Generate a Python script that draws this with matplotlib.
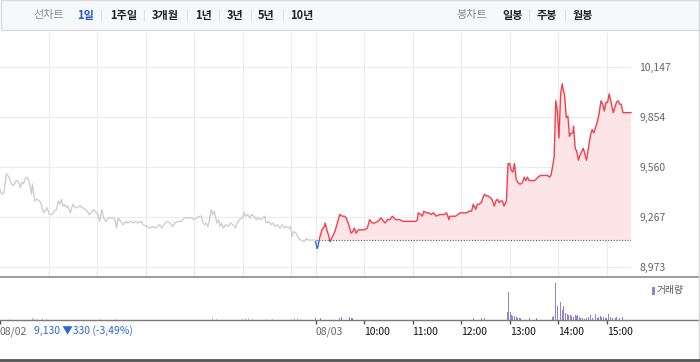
import matplotlib
matplotlib.use('Agg')
import matplotlib.pyplot as plt
from matplotlib.patches import Rectangle
from matplotlib.lines import Line2D
import numpy as np

plt.rcParams['font.family'] = ['Noto Sans CJK KR', 'DejaVu Sans']

# ---------------- data ----------------
prev_times = ['09:00','09:02','09:05','09:08','09:11','09:14','09:17','09:20','09:23','09:25',
              '09:27','09:29','09:31','09:33','09:35','09:37','09:39','09:40','09:43','09:45',
              '09:49','09:51','09:54','09:58','10:01','10:04','10:07','10:10','10:12','10:14',
              '10:16','10:18','10:20','10:22','10:24','10:27','10:30','10:33','10:35','10:39',
              '10:42','10:45','10:48','10:50','10:53','10:56','10:59','11:01','11:03','11:06',
              '11:08','11:11','11:14','11:17','11:20','11:22','11:24','11:26','11:29','11:32',
              '11:36','11:38','11:41','11:45','11:48','11:51','11:54','11:57','12:01','12:05',
              '12:09','12:13','12:17','12:20','12:24','12:27','12:30','12:33','12:36','12:40',
              '12:44','12:48','12:52','12:57','13:00','13:03','13:07','13:09','13:11','13:13',
              '13:15','13:17','13:19','13:21','13:23','13:25','13:28','13:30','13:32','13:34',
              '13:36','13:39','13:42','13:45','13:48','13:51','13:53','13:56','13:59','14:02',
              '14:03','14:06','14:09','14:11','14:14','14:17','14:19','14:22','14:25','14:27',
              '14:29','14:32','14:35','14:37','14:40','14:43','14:46','14:49','14:52','14:54',
              '14:57','14:59','15:01','15:03','15:06','15:09','15:12','15:16','15:19','15:20',
              '15:30']
prev_prices = [9430,9400,9410,9520,9500,9460,9450,9480,9470,9440,
               9470,9460,9490,9500,9490,9450,9400,9460,9360,9370,
               9360,9340,9290,9320,9280,9280,9300,9310,9360,9340,
               9370,9330,9340,9320,9330,9290,9340,9320,9320,9330,
               9320,9310,9300,9280,9290,9310,9290,9280,9240,9310,
               9260,9240,9260,9260,9260,9250,9200,9260,9240,9220,
               9240,9230,9240,9230,9240,9230,9240,9220,9210,9200,
               9210,9200,9220,9200,9230,9240,9230,9210,9230,9240,
               9240,9260,9260,9260,9250,9260,9270,9270,9230,9220,
               9230,9210,9250,9310,9280,9300,9230,9250,9210,9230,
               9200,9220,9210,9230,9220,9200,9230,9250,9260,9290,
               9270,9280,9260,9280,9270,9250,9260,9250,9260,9270,
               9230,9240,9220,9230,9210,9220,9200,9220,9200,9210,
               9200,9210,9150,9180,9170,9140,9130,9120,9140,9130,
               9130]

cur_times = ['09:00','09:02','09:03','09:05','09:08','09:11','09:12','09:14','09:16','09:18',
             '09:20','09:22','09:24','09:27','09:30','09:33','09:36','09:38','09:41','09:44',
             '09:46','09:48','09:50','09:53','09:56','10:00','10:04','10:07','10:10','10:13',
             '10:17','10:19','10:21','10:24','10:26','10:29','10:32','10:35','10:39','10:41',
             '10:44','10:48','10:52','10:56','11:00','11:04','11:06','11:07','11:10','11:12',
             '11:14','11:17','11:20','11:23','11:26','11:29','11:33','11:36','11:39','11:42',
             '11:45','11:46','11:49','11:53','11:56','11:59','12:01','12:04','12:07','12:10',
             '12:13','12:15','12:18','12:20','12:22','12:25','12:27','12:29','12:31','12:33',
             '12:36','12:38','12:41','12:43','12:45','12:47','12:49','12:51','12:53','12:56',
             '12:58','13:00','13:02','13:04','13:06','13:08','13:10','13:12','13:14','13:16',
             '13:18','13:20','13:22','13:24','13:26','13:29','13:31','13:33','13:35','13:38',
             '13:41','13:43','13:45','13:47','13:49','13:51','13:53','13:55','13:57','13:59',
             '14:01','14:03','14:05','14:06','14:08','14:10','14:12','14:14','14:16','14:18',
             '14:19','14:21','14:23','14:25','14:27','14:30','14:31','14:35','14:38','14:40',
             '14:42','14:44','14:46','14:48','14:50','14:53','14:55','14:57','14:59','15:01',
             '15:03','15:05','15:08','15:10','15:12','15:14','15:16','15:18','15:20','15:30']
cur_prices = [9120,9080,9090,9140,9190,9210,9230,9190,9160,9120,
              9140,9160,9180,9230,9280,9270,9270,9260,9220,9170,
              9180,9200,9170,9190,9190,9190,9200,9250,9230,9230,
              9240,9250,9260,9240,9230,9250,9250,9270,9250,9250,
              9250,9240,9240,9240,9240,9240,9250,9290,9280,9270,
              9300,9290,9290,9280,9290,9270,9280,9280,9280,9290,
              9250,9270,9270,9270,9280,9290,9290,9290,9290,9300,
              9300,9340,9310,9340,9340,9350,9380,9400,9390,9390,
              9380,9370,9330,9360,9370,9350,9360,9360,9330,9360,
              9580,9580,9540,9530,9580,9490,9470,9460,9460,9470,
              9500,9480,9500,9480,9480,9480,9480,9490,9500,9510,
              9510,9510,9510,9510,9500,9510,9560,9620,9950,9890,
              9730,9990,10050,10020,9980,9850,9860,9740,9760,9760,
              9800,9670,9650,9600,9630,9660,9670,9600,9690,9750,
              9780,9760,9790,9820,9860,9950,9930,9890,9940,9940,
              9990,9950,9880,9910,9940,9950,9930,9930,9880,9880]

prev_vol_times = ['09:12','09:40','09:42','09:45','09:53','09:57','10:50','11:03','11:23',
                  '13:23','13:28','14:00','14:03','14:07','14:12','14:30','14:37',
                  '15:00','15:04','15:08','15:12']
prev_vols = [8,10,10,8,10,8,8,8,8,10,8,8,10,10,8,8,8,8,10,10,8]

cur_vol_times = ['09:00','09:06','09:30','09:32','09:42','09:44','09:46','12:15','12:25','12:29',
                 '12:57','12:59','13:01','13:02','13:04','13:06','13:08','13:10','13:12','13:14',
                 '13:24','13:33','13:53','13:54','13:57','13:59','14:01','14:03','14:05','14:07',
                 '14:09','14:11','14:13','14:15','14:17','14:19','14:21','14:23','14:24','14:26',
                 '14:28','14:30','14:33','14:35','14:38','14:40','14:43','14:46','14:48','14:50',
                 '14:52','14:54','14:56','14:58','15:00','15:02','15:05','15:07','15:11','15:12',
                 '15:16','15:19','15:30']
cur_vols = [10,10,13,20,20,10,10,10,10,10,
            73,273,73,40,30,30,20,13,13,13,
            10,10,20,30,363,130,120,173,97,130,
            60,53,47,40,30,20,40,37,40,20,
            13,13,7,13,20,40,13,53,13,20,
            30,20,20,13,13,53,20,13,13,20,
            13,23,10]

base_price = 9130
y_ticks = [8973, 9267, 9560, 9854, 10147]
axis_labels = ['08/02', '08/03', '10:00', '11:00', '12:00', '13:00', '14:00', '15:00']
prev_summary = '9,130 ▼330 (-3,49%)'
period_tabs = ['1일', '1주일', '3개월', '1년', '3년', '5년', '10년']
candle_tabs = ['일봉', '주봉', '월봉']

SESSION = 390  # minutes per trading day (09:00-15:30)


def to_min(hhmm, day):
    h, m = map(int, hhmm.split(':'))
    return day * SESSION + (h - 9) * 60 + m


prev_t = np.array([to_min(s, 0) for s in prev_times])
prev_p = np.array(prev_prices)
cur_t = np.array([to_min(s, 1) for s in cur_times])
cur_p = np.array(cur_prices)
pv_t = np.array([to_min(s, 0) for s in prev_vol_times])
cv_t = np.array([to_min(s, 1) for s in cur_vol_times])

W, H = 700, 362
fig = plt.figure(figsize=(W / 100, H / 100), dpi=100)
fig.patch.set_facecolor('white')


def fx(px):
    return px / W


def fy(py):
    return 1 - py / H


# ---------------- header ----------------
fig.patches.append(Rectangle((fx(0.5), fy(30)), fx(698), 30 / H, transform=fig.transFigure,
                             facecolor='#f7f8fa', edgecolor='#d9d9d9', lw=1, zorder=0))
ty = fy(15)
fig.text(fx(33), ty, '선차트', color='#8a8a8a', fontsize=8, va='center', ha='left')
tab_x = [77, 110, 152, 195, 227, 258, 290]
sep_x = [101, 144, 187, 219, 251, 283]
for i, (lab, x) in enumerate(zip(period_tabs, tab_x)):
    fig.text(fx(x), ty, lab, color='#2456c8' if i == 0 else '#222222', fontsize=8,
             fontweight='bold', va='center', ha='left')
fig.text(fx(456), ty, '봉차트', color='#8a8a8a', fontsize=8, va='center', ha='left')
for lab, x in zip(candle_tabs, [502, 537, 573]):
    fig.text(fx(x), ty, lab, color='#222222', fontsize=8, fontweight='bold', va='center', ha='left')
for x in sep_x + [529, 565]:
    fig.lines.append(Line2D([fx(x), fx(x)], [fy(10), fy(20)], transform=fig.transFigure,
                            color='#e2e2e2', lw=0.8))

# ---------------- price panel ----------------
XMAX = 2 * SESSION
price_right = 631
ax = fig.add_axes([0, fy(276.5), fx(price_right), (276.5 - 33) / H])
ax.set_xlim(0, XMAX)
ax.set_ylim(8915, 10349)
for s in ax.spines.values():
    s.set_visible(False)

grid_x = [60 * k for k in range(1, 7)] + [SESSION] + [SESSION + 60 * k for k in range(1, 7)]
ax.set_xticks(grid_x)
ax.set_xticklabels([])
ax.tick_params(axis='x', length=0)
ax.yaxis.tick_right()
ax.set_yticks(y_ticks)
ax.set_yticklabels([f'{v:,}' for v in y_ticks])
ax.tick_params(axis='y', length=0, pad=6, labelsize=7.5, labelcolor='#666666')
ax.grid(True, color='#ebebeb', lw=0.8, zorder=0)

ax.plot(prev_t, prev_p, color='#cbcdd3', lw=0.95, zorder=3)

ax.fill_between(cur_t, cur_p, base_price, where=cur_p >= base_price, interpolate=True,
                color='#fde4e7', lw=0, zorder=2)
ax.fill_between(cur_t, cur_p, base_price, where=cur_p <= base_price, interpolate=True,
                color='#e2ebfa', lw=0, zorder=2)
ax.hlines(base_price, SESSION, XMAX, colors='#555555', linestyles=(0, (1, 1.5)), lw=0.8, zorder=3)

red_line, = ax.plot(cur_t, cur_p, color='#f43f4a', lw=1.0, zorder=4)
blue_line, = ax.plot(cur_t, cur_p, color='#3373de', lw=1.0, zorder=4)
up_clip = Rectangle((SESSION - 5, base_price), XMAX, 3000, transform=ax.transData)
dn_clip = Rectangle((SESSION - 5, base_price - 3000), XMAX, 3000, transform=ax.transData)
red_line.set_clip_path(up_clip)
blue_line.set_clip_path(dn_clip)

# ---------------- volume panel ----------------
axv = fig.add_axes([0, fy(319.5), 1, (319.5 - 277) / H])
axv.set_xlim(0, XMAX * W / price_right)
axv.set_ylim(0, 423)
axv.bar(pv_t, prev_vols, width=1.2, color='#c4c6d0', lw=0, align='center')
axv.bar(cv_t, cur_vols, width=1.2, color='#9383c9', lw=0, align='center')
for side in ['left', 'right']:
    axv.spines[side].set_visible(False)
axv.spines['bottom'].set_color('#7a7a7a')
axv.spines['bottom'].set_linewidth(1.0)
axv.spines['top'].set_color('#8a8a8a')
axv.spines['top'].set_linewidth(1.2)
axv.set_yticks([])
tick_pos = [0, SESSION] + [SESSION + 60 * k for k in range(1, 7)]
axv.set_xticks(tick_pos)
axv.set_xticklabels(axis_labels)
axv.tick_params(axis='x', direction='out', length=3.2, width=1, color='#555555',
                labelsize=7.5, pad=2)
for i, lbl in enumerate(axv.get_xticklabels()):
    lbl.set_ha('left')
    lbl.set_color('#666666' if i < 2 else '#111111')

fig.text(fx(34), fy(331), prev_summary, color='#2b67d6', fontsize=7.5, va='center', ha='left')

# legend
fig.patches.append(Rectangle((fx(652), fy(295)), fx(2.5), 8 / H, transform=fig.transFigure,
                             facecolor='#9383c9', lw=0))
fig.text(fx(657), fy(290.5), '거래량', color='#555555', fontsize=7, va='center', ha='left')

# container borders
fig.lines.append(Line2D([fx(698.5), fx(698.5)], [fy(30), fy(359)], transform=fig.transFigure,
                        color='#d6d6d6', lw=1))
fig.lines.append(Line2D([0, 1], [fy(360), fy(360)], transform=fig.transFigure,
                        color='#555555', lw=2))

fig.savefig('out.png', dpi=100, facecolor='white')
